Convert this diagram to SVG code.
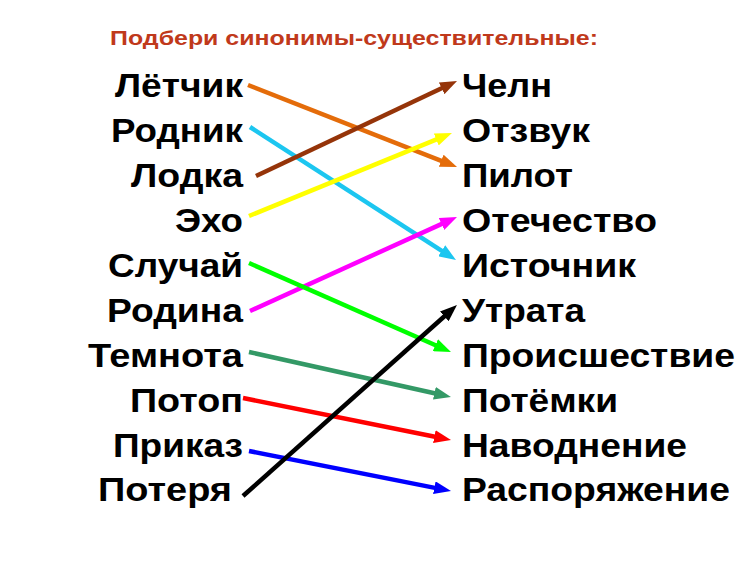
<svg xmlns="http://www.w3.org/2000/svg" width="750" height="562" viewBox="0 0 750 562">
<style>
.t{font-family:"Liberation Sans",Arial,sans-serif;font-weight:bold;font-size:33px;fill:#000}
.l{text-anchor:end}
.title{font-family:"Liberation Sans",Arial,sans-serif;font-weight:bold;font-size:21px;fill:#C0391B}
.c{fill:none;stroke-width:4.5;stroke-linecap:butt}
</style>
<defs>
<marker id="m-or" viewBox="0 0 17 13" refX="7" refY="6.5" markerWidth="17" markerHeight="13" markerUnits="userSpaceOnUse" orient="auto"><path d="M0,0 L17,6.5 L0,13 z" fill="#E46C0A"/></marker>
<marker id="m-cy" viewBox="0 0 17 13" refX="7" refY="6.5" markerWidth="17" markerHeight="13" markerUnits="userSpaceOnUse" orient="auto"><path d="M0,0 L17,6.5 L0,13 z" fill="#1CC6F0"/></marker>
<marker id="m-br" viewBox="0 0 17 13" refX="7" refY="6.5" markerWidth="17" markerHeight="13" markerUnits="userSpaceOnUse" orient="auto"><path d="M0,0 L17,6.5 L0,13 z" fill="#953409"/></marker>
<marker id="m-ye" viewBox="0 0 17 13" refX="7" refY="6.5" markerWidth="17" markerHeight="13" markerUnits="userSpaceOnUse" orient="auto"><path d="M0,0 L17,6.5 L0,13 z" fill="#FFFF00"/></marker>
<marker id="m-mg" viewBox="0 0 17 13" refX="7" refY="6.5" markerWidth="17" markerHeight="13" markerUnits="userSpaceOnUse" orient="auto"><path d="M0,0 L17,6.5 L0,13 z" fill="#FF00FF"/></marker>
<marker id="m-gr" viewBox="0 0 17 13" refX="7" refY="6.5" markerWidth="17" markerHeight="13" markerUnits="userSpaceOnUse" orient="auto"><path d="M0,0 L17,6.5 L0,13 z" fill="#00FF00"/></marker>
<marker id="m-tl" viewBox="0 0 17 13" refX="7" refY="6.5" markerWidth="17" markerHeight="13" markerUnits="userSpaceOnUse" orient="auto"><path d="M0,0 L17,6.5 L0,13 z" fill="#339966"/></marker>
<marker id="m-rd" viewBox="0 0 17 13" refX="7" refY="6.5" markerWidth="17" markerHeight="13" markerUnits="userSpaceOnUse" orient="auto"><path d="M0,0 L17,6.5 L0,13 z" fill="#FF0000"/></marker>
<marker id="m-bl" viewBox="0 0 17 13" refX="7" refY="6.5" markerWidth="17" markerHeight="13" markerUnits="userSpaceOnUse" orient="auto"><path d="M0,0 L17,6.5 L0,13 z" fill="#0000FF"/></marker>
<marker id="m-bk" viewBox="0 0 17 13" refX="7" refY="6.5" markerWidth="17" markerHeight="13" markerUnits="userSpaceOnUse" orient="auto"><path d="M0,0 L17,6.5 L0,13 z" fill="#000000"/></marker>
</defs>
<rect width="750" height="562" fill="#fff"/>
<text class="title" x="110" y="45" textLength="488" lengthAdjust="spacingAndGlyphs">Подбери синонимы-существительные:</text>

<g id="left">
<g id="n-letchik"><text class="t l" x="243" y="97" textLength="128" lengthAdjust="spacingAndGlyphs">Лётчик</text></g>
<g id="n-rodnik"><text class="t l" x="243" y="142" textLength="132" lengthAdjust="spacingAndGlyphs">Родник</text></g>
<g id="n-lodka"><text class="t l" x="243" y="187" textLength="112" lengthAdjust="spacingAndGlyphs">Лодка</text></g>
<g id="n-eho"><text class="t l" x="243" y="232" textLength="68" lengthAdjust="spacingAndGlyphs">Эхо</text></g>
<g id="n-sluchai"><text class="t l" x="243" y="277" textLength="135" lengthAdjust="spacingAndGlyphs">Случай</text></g>
<g id="n-rodina"><text class="t l" x="243" y="322" textLength="136" lengthAdjust="spacingAndGlyphs">Родина</text></g>
<g id="n-temnota"><text class="t l" x="243" y="367" textLength="155" lengthAdjust="spacingAndGlyphs">Темнота</text></g>
<g id="n-potop"><text class="t l" x="243" y="412" textLength="113" lengthAdjust="spacingAndGlyphs">Потоп</text></g>
<g id="n-prikaz"><text class="t l" x="243" y="457" textLength="130" lengthAdjust="spacingAndGlyphs">Приказ</text></g>
<g id="n-poterya"><text class="t l" x="232" y="501" textLength="134" lengthAdjust="spacingAndGlyphs">Потеря</text></g>
</g>

<g id="right">
<g id="n-cheln"><text class="t" x="462" y="97" textLength="90" lengthAdjust="spacingAndGlyphs">Челн</text></g>
<g id="n-otzvuk"><text class="t" x="462" y="142" textLength="128" lengthAdjust="spacingAndGlyphs">Отзвук</text></g>
<g id="n-pilot"><text class="t" x="462" y="187" textLength="111" lengthAdjust="spacingAndGlyphs">Пилот</text></g>
<g id="n-otechestvo"><text class="t" x="462" y="232" textLength="195" lengthAdjust="spacingAndGlyphs">Отечество</text></g>
<g id="n-istochnik"><text class="t" x="462" y="277" textLength="174" lengthAdjust="spacingAndGlyphs">Источник</text></g>
<g id="n-utrata"><text class="t" x="462" y="322" textLength="123" lengthAdjust="spacingAndGlyphs">Утрата</text></g>
<g id="n-proisshestvie"><text class="t" x="462" y="367" textLength="273" lengthAdjust="spacingAndGlyphs">Происшествие</text></g>
<g id="n-potemki"><text class="t" x="462" y="412" textLength="156" lengthAdjust="spacingAndGlyphs">Потёмки</text></g>
<g id="n-navodnenie"><text class="t" x="462" y="457" textLength="225" lengthAdjust="spacingAndGlyphs">Наводнение</text></g>
<g id="n-rasporyazhenie"><text class="t" x="462" y="501" textLength="268" lengthAdjust="spacingAndGlyphs">Распоряжение</text></g>
</g>

<g id="connectors">
<line class="c" x1="248" y1="85" x2="447.7" y2="163.3" stroke="#E46C0A" marker-end="url(#m-or)"/>
<line class="c" x1="250" y1="127" x2="447.6" y2="254.6" stroke="#1CC6F0" marker-end="url(#m-cy)"/>
<line class="c" x1="256" y1="176" x2="448" y2="85.3" stroke="#953409" marker-end="url(#m-br)"/>
<line class="c" x1="249" y1="216" x2="442.7" y2="136.8" stroke="#FFFF00" marker-end="url(#m-ye)"/>
<line class="c" x1="250" y1="311" x2="447.9" y2="221.1" stroke="#FF00FF" marker-end="url(#m-mg)"/>
<line class="c" x1="249" y1="263" x2="441.8" y2="348" stroke="#00FF00" marker-end="url(#m-gr)"/>
<line class="c" x1="249" y1="352" x2="441.2" y2="394.8" stroke="#339966" marker-end="url(#m-tl)"/>
<line class="c" x1="243" y1="398" x2="441.2" y2="438" stroke="#FF0000" marker-end="url(#m-rd)"/>
<line class="c" x1="249" y1="451" x2="441.2" y2="489.1" stroke="#0000FF" marker-end="url(#m-bl)"/>
<line class="c" x1="243" y1="496" x2="449.5" y2="311.7" stroke="#000000" marker-end="url(#m-bk)"/>
</g>
</svg>
